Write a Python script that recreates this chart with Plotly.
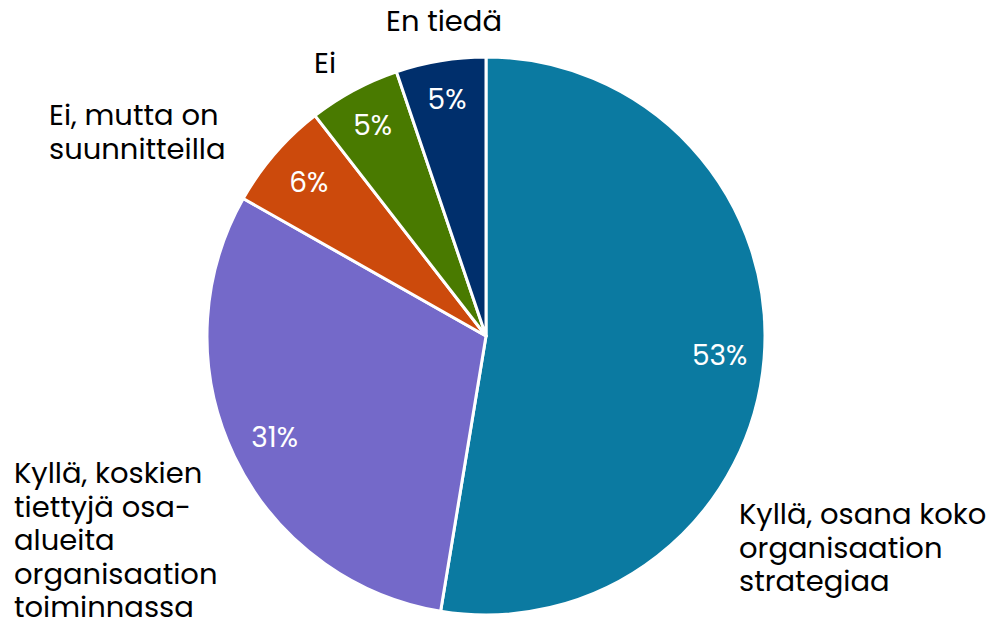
import plotly.graph_objects as go

categories = [
    "Kyllä, osana koko organisaation strategiaa",
    "Kyllä, koskien tiettyjä osa-alueita organisaation toiminnassa",
    "Ei, mutta on suunnitteilla",
    "Ei",
    "En tiedä",
]
values = [52.6, 30.6, 6.3, 5.3, 5.2]
colors = ["#0B7AA1", "#7469C9", "#CC4A0C", "#497A00", "#002F6C"]
label_lines = [
    ["Kyllä, osana koko", "organisaation", "strategiaa"],
    ["Kyllä, koskien", "tiettyjä osa-", "alueita", "organisaation", "toiminnassa"],
    ["Ei, mutta on", "suunnitteilla"],
    ["Ei"],
    ["En tiedä"],
]
# label layout: (x pixel, first-line y pixel, anchor)
label_pos = [
    (729, 506, "left"),
    (4, 465, "left"),
    (39, 107, "left"),
    (317, 55, "center"),
    (436, 13, "center"),
]
LINE_H = 33.6

FONT = "Poppins, Open Sans, Noto Sans, sans-serif"
W, H = 994, 627
cx, cy, R = 478, 328, 279
domain = dict(x=[(cx - R) / W, (cx + R) / W], y=[(H - cy - R) / H, (H - cy + R) / H])

fig = go.Figure()
fig.add_trace(go.Pie(
    labels=categories, values=values, sort=False, direction="clockwise", rotation=0,
    marker=dict(colors=colors, line=dict(color="white", width=3)),
    textinfo="none", hoverinfo="label+percent", domain=domain, showlegend=False,
))
fig.add_trace(go.Pie(
    labels=categories, values=values, sort=False, direction="clockwise", rotation=0,
    hole=0.68,
    marker=dict(colors=["rgba(0,0,0,0)"] * 5, line=dict(width=0)),
    texttemplate="%{percent:.0%}", textposition="inside", insidetextorientation="horizontal",
    textfont=dict(color="white", size=28, family=FONT),
    hoverinfo="skip", domain=domain, showlegend=False,
))

for lines, (px, py, anchor) in zip(label_lines, label_pos):
    for i, line in enumerate(lines):
        fig.add_annotation(
            text=line, x=px / W, y=1 - (py + i * LINE_H) / H, xref="paper", yref="paper",
            showarrow=False, xanchor=anchor, yanchor="middle", align=anchor,
            font=dict(size=29, color="black", family=FONT),
        )

fig.update_layout(
    width=W, height=H, margin=dict(l=0, r=0, t=0, b=0),
    paper_bgcolor="white", plot_bgcolor="white", showlegend=False,
)
fig.write_html("out.html")
